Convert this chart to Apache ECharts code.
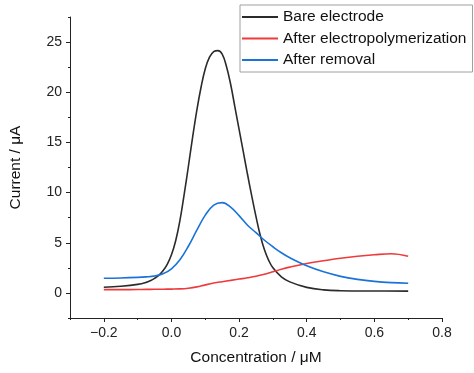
<!DOCTYPE html>
<html>
<head>
<meta charset="utf-8">
<script src="https://cdn.jsdelivr.net/npm/echarts@6/dist/echarts.min.js"></script>
<style>html,body{margin:0;padding:0;background:#fff}#c{width:474px;height:373px}</style>
</head>
<body>
<div id="c"></div>
<script>
var concBare = [-0.2, -0.15, -0.1, -0.075, -0.0625, -0.05, -0.0375, -0.025, -0.0125, 0, 0.0125, 0.025, 0.0375, 0.05, 0.0625, 0.075, 0.0875, 0.1, 0.1125, 0.125, 0.1375, 0.15, 0.1625, 0.175, 0.1875, 0.2, 0.2125, 0.225, 0.2375, 0.25, 0.2625, 0.275, 0.2875, 0.3, 0.325, 0.35, 0.4, 0.45, 0.5, 0.6, 0.7];
var bare = [0.56, 0.66, 0.85, 1.05, 1.22, 1.45, 1.75, 2.2, 2.85, 3.8, 5.2, 7.2, 9.8, 12.6, 15.5, 18.2, 20.5, 22.35, 23.5, 24.05, 24.15, 23.8, 22.6, 20.8, 18.55, 16.3, 14.05, 11.8, 9.65, 7.6, 5.75, 4.3, 3.25, 2.5, 1.6, 1.1, 0.55, 0.3, 0.22, 0.19, 0.18];
var conc = [-0.2, -0.15, -0.1, -0.075, -0.05, -0.025, 0, 0.025, 0.05, 0.075, 0.1, 0.125, 0.15, 0.175, 0.2, 0.225, 0.25, 0.275, 0.3, 0.325, 0.35, 0.4, 0.45, 0.5, 0.55, 0.6, 0.65, 0.7];
var afterPoly = [0.33, 0.33, 0.34, 0.35, 0.36, 0.37, 0.38, 0.4, 0.47, 0.6, 0.8, 0.98, 1.12, 1.25, 1.38, 1.51, 1.66, 1.86, 2.1, 2.35, 2.57, 2.93, 3.2, 3.45, 3.65, 3.8, 3.9, 3.65];
var afterRemoval = [1.46, 1.49, 1.55, 1.6, 1.68, 1.9, 2.4, 3.3, 4.65, 6.25, 7.75, 8.75, 9.0, 8.55, 7.7, 6.75, 6.0, 5.25, 4.6, 4.0, 3.5, 2.7, 2.1, 1.65, 1.35, 1.15, 1.03, 0.97];
var seriesNames = ['Bare electrode', 'After electropolymerization', 'After removal'];
var xTicks = [-0.2, 0, 0.2, 0.4, 0.6, 0.8];
var xMinorTicks = [-0.3, -0.1, 0.1, 0.3, 0.5, 0.7];
var yTicks = [0, 5, 10, 15, 20, 25];
var yMinorTicks = [-2.5, 2.5, 7.5, 12.5, 17.5, 22.5, 27.5];

function pairs(xs, ys) { return xs.map(function (x, i) { return [x, ys[i]]; }); }
var FONT = '"Liberation Sans", Arial, sans-serif';
var chart = echarts.init(document.getElementById('c'));
var colors = ['#2b2b2b', '#ee3a3a', '#1a73d9'];
var datas = [pairs(concBare, bare), pairs(conc, afterPoly), pairs(conc, afterRemoval)];
chart.setOption({
  animation: false,
  grid: { left: 68, right: 32, top: 17, bottom: 55 },
  legend: {
    orient: 'vertical', left: 240, top: 5,
    backgroundColor: '#fff', borderColor: '#a0a0a0', borderWidth: 1,
    padding: [4, 6, 4, 1], itemWidth: 36, itemHeight: 14, itemGap: 5.5,
    itemStyle: { opacity: 0 },
    textStyle: { fontFamily: FONT, fontSize: 15.5, color: '#111' },
    data: seriesNames
  },
  xAxis: [{
    type: 'value', min: -0.3, max: 0.8,
    name: 'Concentration / μM', nameLocation: 'middle', nameGap: 32,
    nameTextStyle: { fontFamily: FONT, fontSize: 15.5, color: '#111' },
    axisLine: { onZero: false, lineStyle: { color: '#222', width: 1 } },
    axisTick: { customValues: xTicks, length: 4, lineStyle: { color: '#222' } },
    axisLabel: { customValues: xTicks, margin: 8, fontFamily: FONT, fontSize: 14, color: '#222',
      formatter: function (v) { return (v < 0 ? '\u2212' : '') + Math.abs(v).toFixed(1); } },
    splitLine: { show: false }
  }, {
    type: 'value', min: -0.3, max: 0.8, position: 'bottom',
    axisLine: { show: false, onZero: false },
    axisTick: { customValues: xMinorTicks, length: 2, lineStyle: { color: '#222' } },
    axisLabel: { show: false }, splitLine: { show: false }
  }],
  yAxis: [{
    type: 'value', min: -2.5, max: 27.5,
    name: 'Current / μA', nameLocation: 'middle', nameGap: 46,
    nameTextStyle: { fontFamily: FONT, fontSize: 15.5, color: '#111' },
    axisLine: { show: true, onZero: false, lineStyle: { color: '#222', width: 1 } },
    axisTick: { show: true, customValues: yTicks, length: 4, lineStyle: { color: '#222' } },
    axisLabel: { customValues: yTicks, margin: 8, fontFamily: FONT, fontSize: 14, color: '#222' },
    splitLine: { show: false }
  }, {
    type: 'value', min: -2.5, max: 27.5, position: 'left', offset: 0,
    axisLine: { show: false, onZero: false },
    axisTick: { show: true, customValues: yMinorTicks, length: 2, lineStyle: { color: '#222' } },
    axisLabel: { show: false }, splitLine: { show: false }
  }],
  series: seriesNames.map(function (n, i) {
    return {
      name: n, type: 'line', xAxisIndex: 0, yAxisIndex: 0,
      data: datas[i], smooth: 0.4, symbol: 'none',
      lineStyle: { color: colors[i], width: 1.6 }, itemStyle: { color: colors[i] }
    };
  })
});
</script>
</body>
</html>
